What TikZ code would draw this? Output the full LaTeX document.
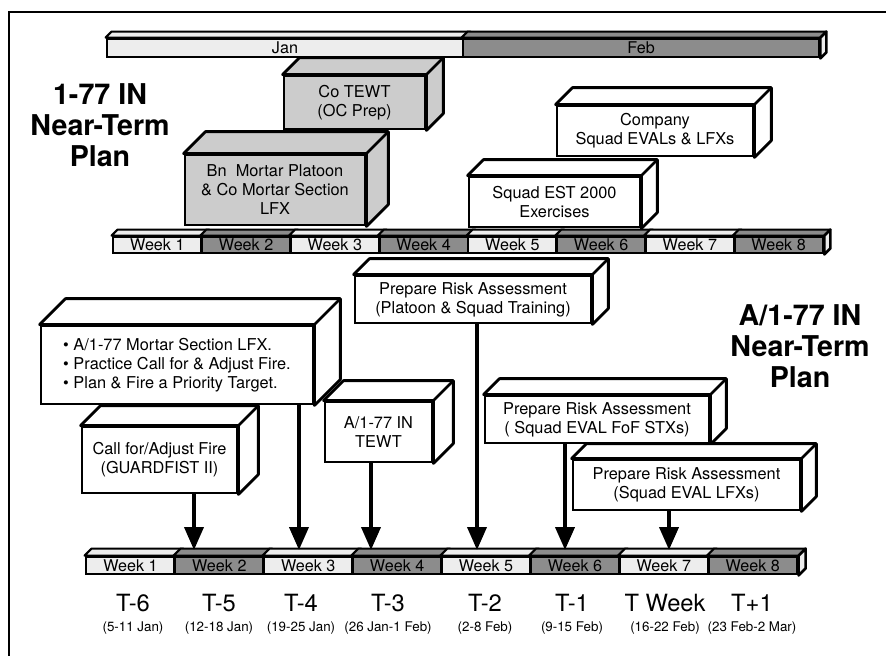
\documentclass[tikz,border=0pt]{standalone}
\usepackage{fontspec}
\setmainfont{TeX Gyre Heros}
\usetikzlibrary{arrows.meta,positioning,calc}

\definecolor{lightcell}{gray}{0.93}
\definecolor{darkcell}{gray}{0.55}
\definecolor{boxgray}{gray}{0.8}

% top and side faces of a block: node, depth, fill
\newcommand{\boxdepth}[3]{%
  \filldraw[fill=#3, line width=1.6pt, line join=round]
    (#1.north west) -- ++(#2,#2) -- ([shift={(#2,#2)}]#1.north east)
    -- ([shift={(#2,#2)}]#1.south east) -- (#1.south east)
    -- (#1.north east) -- cycle;
  \draw[line width=1.6pt] (#1.north east) -- ++(#2,#2);
}
% top face of a bar cell: node, depth, fill
\newcommand{\celltop}[3]{%
  \filldraw[fill=#3, line width=1.2pt, line join=round]
    (#1.north west) -- ++(#2,#2) -- ([shift={(#2,#2)}]#1.north east)
    -- (#1.north east) -- cycle;
}
% right end of a bar: node, depth
\newcommand{\cellside}[2]{%
  \filldraw[fill=lightcell, line width=1.5pt, line join=round]
    (#1.north east) -- ++(#2,#2) -- ([shift={(#2,#2)}]#1.south east)
    -- (#1.south east) -- cycle;
}

\begin{document}
\begin{tikzpicture}[x=0.02cm, y=-0.02cm,
  block/.style={draw, line width=1.6pt, fill=white, inner sep=0pt, align=center,
    font=\fontsize{9.3}{10.8}\selectfont},
  grayblock/.style={block, fill=boxgray},
  cell/.style={draw, line width=1.6pt, inner sep=0pt, font=\fontsize{9.2}{10}\selectfont},
  arr/.style={line width=2.2pt, -{Triangle[width=0.38cm,length=0.46cm]}},
  title/.style={align=center, font=\fontsize{16.3}{17.6}\selectfont\bfseries},
  tlabel/.style={font=\fontsize{13.5}{15}\selectfont},
  dlabel/.style={font=\fontsize{7.6}{9}\selectfont}]
  \useasboundingbox (0,0) rectangle (886,656);
  \draw[line width=1.5pt] (9,656) -- (9,12) -- (886,12);

  % month bar
  \node (jan) [cell, fill=lightcell, minimum width=7.12cm, minimum height=0.36cm] at (285,48) {Jan};
  \node (feb) [cell, fill=darkcell, minimum width=7.12cm, minimum height=0.36cm] at (641,48) {Feb};
  \celltop{jan}{0.12cm}{lightcell}
  \celltop{feb}{0.12cm}{darkcell}
  \cellside{feb}{0.12cm}

  % 1-77 IN weeks
  \foreach \i/\cc in {1/lightcell,2/darkcell,3/lightcell,4/darkcell,5/lightcell,6/darkcell,7/lightcell,8/darkcell} {
    \pgfmathsetmacro\cx{113+88.75*(\i-0.5)}
    \node (w\i) [cell, fill=\cc, minimum width=1.775cm, minimum height=0.32cm] at (\cx,245) {Week \i};
    \celltop{w\i}{0.12cm}{\cc}
  }
  \cellside{w8}{0.12cm}

  % A/1-77 IN weeks
  \foreach \i/\cc in {1/lightcell,2/darkcell,3/lightcell,4/darkcell,5/lightcell,6/darkcell,7/lightcell,8/darkcell} {
    \pgfmathsetmacro\cx{86+88.9*(\i-0.5)}
    \node (b\i) [cell, fill=\cc, minimum width=1.778cm, minimum height=0.34cm] at (\cx,565.5) {Week \i};
    \celltop{b\i}{0.14cm}{\cc}
  }
  \cellside{b8}{0.14cm}
  \coordinate (btop) at (0,550);

  \node (ltitle) [title] at (100,125) {1-77 IN\\Near-Term\\Plan};
  \node (rtitle) [title] at (800,346) {A/1-77 IN\\Near-Term\\Plan};

  % battalion blocks
  \node (cotewt) [grayblock, minimum width=2.82cm, minimum height=1.06cm] at (354.5,102.5) {Co TEWT\\(OC Prep)};
  \boxdepth{cotewt}{0.34cm}{boxgray}
  \node (mortar) [grayblock, minimum width=3.6cm, minimum height=1.4cm] at (275,190) {Bn\ \ Mortar Platoon\\\& Co Mortar Section\\LFX};
  \boxdepth{mortar}{0.44cm}{boxgray}
  \node (company) [block, minimum width=3.92cm, minimum height=1.0cm] at (655,131) {Company\\Squad EVALs \& LFXs};
  \boxdepth{company}{0.34cm}{white}
  \node (est) [block, minimum width=3.42cm, minimum height=1.0cm] at (554.5,202) {Squad EST 2000\\Exercises};
  \boxdepth{est}{0.32cm}{white}

  % company blocks
  \node (platoon) [block, minimum width=4.72cm, minimum height=0.94cm] at (473,299.5) {Prepare Risk Assessment\\(Platoon \& Squad Training)};
  \boxdepth{platoon}{0.32cm}{white}
  \node (lfx) [block, align=left, minimum width=5.44cm, minimum height=1.56cm] at (177,365)
    {\textbullet\ A/1-77 Mortar Section LFX.\\\textbullet\ Practice Call for \& Adjust Fire.\\\textbullet\ Plan \& Fire a Priority Target.};
  \boxdepth{lfx}{0.52cm}{white}
  \node (call) [block, minimum width=3.1cm, minimum height=1.32cm] at (159.5,460) {Call for/Adjust Fire\\(GUARDFIST II)};
  \boxdepth{call}{0.4cm}{white}
  \node (tewt) [block, minimum width=2.14cm, minimum height=1.2cm] at (378.5,432) {A/1-77 IN\\TEWT};
  \boxdepth{tewt}{0.4cm}{white}
  \node (fof) [block, minimum width=4.48cm, minimum height=0.94cm] at (597,419.5) {Prepare Risk Assessment\\( Squad EVAL FoF STXs)};
  \boxdepth{fof}{0.32cm}{white}
  \node (evallfx) [block, minimum width=4.54cm, minimum height=1.0cm] at (686.5,485) {Prepare Risk Assessment\\(Squad EVAL LFXs)};
  \boxdepth{evallfx}{0.3cm}{white}

  \draw[arr] ([xshift=0.69cm]call.south) -- ([xshift=0.69cm]call.south |- btop);
  \draw[arr] ([xshift=2.44cm]lfx.south) -- ([xshift=2.44cm]lfx.south |- btop);
  \draw[arr] ([xshift=-0.15cm]tewt.south) -- ([xshift=-0.15cm]tewt.south |- btop);
  \draw[arr] ([xshift=0.08cm]platoon.south) -- ([xshift=0.08cm]platoon.south |- btop);
  \draw[arr] ([xshift=-0.64cm]fof.south) -- ([xshift=-0.64cm]fof.south |- btop);
  \draw[arr] ([xshift=-0.35cm]evallfx.south) -- ([xshift=-0.35cm]evallfx.south |- btop);

  % training weeks
  \foreach \x/\t/\d [count=\k] in {133/T-6/5-11 Jan, 219/T-5/12-18 Jan, 301/T-4/19-25 Jan,
      388/T-3/26 Jan-1 Feb, 485/T-2/2-8 Feb, 572/T-1/9-15 Feb, 665/T Week/16-22 Feb, 752/T+1/23 Feb-2 Mar} {
    \node (t\k) [tlabel] at (\x,603) {\t};
    \node (d\k) [dlabel] at (\x,628) {(\d)};
  }
\end{tikzpicture}
\end{document}
